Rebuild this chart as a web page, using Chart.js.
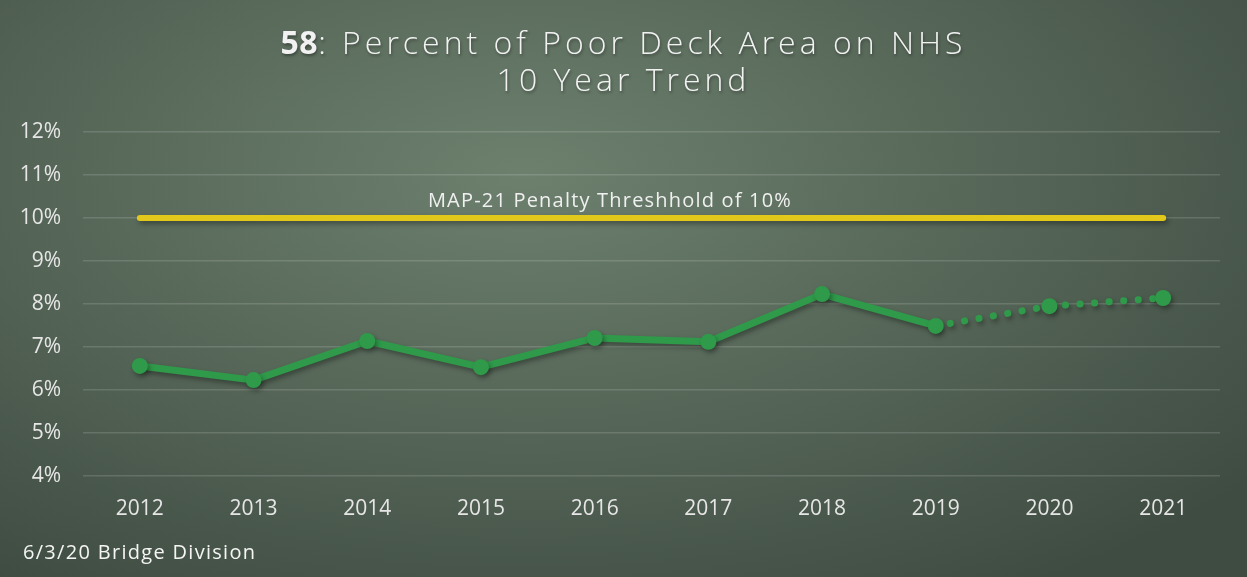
<!DOCTYPE html>
<html>
<head>
<meta charset="utf-8">
<script src="https://cdn.jsdelivr.net/npm/chart.js@4"></script>
<style>
    body { margin: 0; }
    #wrap {
        position: relative;
        width: 1247px;
        height: 577px;
        overflow: hidden;
        background: radial-gradient(ellipse 75% 85% at 42% 30%, #6d806e 0%, #58695a 45%, #3f4c42 100%);
        font-family: 'Open Sans', sans-serif;
        color: #f2f2f2;
    }
    #title {
        position: absolute;
        left: 0; right: 0; top: 23px;
        text-align: center;
        font-size: 32px;
        font-weight: 300;
        letter-spacing: 4px;
        line-height: 37px;
        text-shadow: 1px 2px 3px rgba(0,0,0,0.35);
    }
    #title b { font-weight: 700; letter-spacing: 0.5px; }
    #thresholdLabel {
        position: absolute;
        left: 360px; width: 500px; top: 186px;
        text-align: center;
        font-size: 20px;
        letter-spacing: 1.2px;
        color: #f0f0f0;
    }
    #footnote {
        position: absolute;
        left: 23px; top: 538px;
        font-size: 20px;
        letter-spacing: 1.3px;
        color: #f5f5f5;
    }
    #chartBox { position: absolute; left: 0; top: 0; width: 1247px; height: 577px; }
</style>
</head>
<body>
<div id="wrap">
    <div id="chartBox"><canvas id="trendChart"></canvas></div>
    <div id="title"><b>58</b>: Percent of Poor Deck Area on NHS<br>10 Year Trend</div>
    <div id="thresholdLabel">MAP-21 Penalty Threshhold of 10%</div>
    <div id="footnote">6/3/20 Bridge Division</div>
</div>
<script>
// Chart data
const years = ['2012', '2013', '2014', '2015', '2016', '2017', '2018', '2019', '2020', '2021'];
const poorDeckPct = [6.56, 6.23, 7.14, 6.53, 7.21, 7.12, 8.23, 7.49, 7.95, 8.14];
const penaltyThreshold = [10, 10, 10, 10, 10, 10, 10, 10, 10, 10];
const yTicks = { min: 4, max: 12, step: 1 };

const GREEN = '#2f9a4a';
const YELLOW = '#e2c81b';
const TEXT = '#e6e6e6';

// index after which the line turns dotted (projected values)
const lastActual = 7;

// Soft shadow under the lines
const shadowPlugin = {
    id: 'lineShadow',
    beforeDatasetsDraw(chart) {
        const ctx = chart.ctx;
        ctx.save();
        ctx.shadowColor = 'rgba(0,0,0,0.35)';
        ctx.shadowBlur = 5;
        ctx.shadowOffsetX = 2;
        ctx.shadowOffsetY = 3;
    },
    afterDatasetsDraw(chart) {
        chart.ctx.restore();
    }
};

new Chart(document.getElementById('trendChart'), {
    type: 'line',
    data: {
        labels: years,
        datasets: [
            {
                label: 'Threshold',
                data: penaltyThreshold,
                borderColor: YELLOW,
                borderWidth: 6,
                borderCapStyle: 'round',
                pointRadius: 0,
                tension: 0,
                order: 2
            },
            {
                label: 'Poor Deck Area',
                data: poorDeckPct,
                borderColor: GREEN,
                backgroundColor: GREEN,
                borderWidth: 7,
                borderCapStyle: 'round',
                borderJoinStyle: 'round',
                pointRadius: 8,
                pointBorderWidth: 0,
                pointBackgroundColor: GREEN,
                tension: 0,
                order: 1,
                segment: {
                    borderDash: ctx => ctx.p0DataIndex >= lastActual ? [0.1, 14.5] : undefined
                }
            }
        ]
    },
    options: {
        responsive: true,
        maintainAspectRatio: false,
        animation: false,
        layout: {
            padding: { top: 132, right: 27, bottom: 51, left: 0 }
        },
        plugins: {
            legend: { display: false },
            tooltip: { enabled: false }
        },
        scales: {
            x: {
                offset: true,
                grid: { display: false },
                border: { display: false },
                ticks: {
                    color: TEXT,
                    padding: 12,
                    font: { family: 'Open Sans', size: 21 }
                },
                afterFit: scale => { scale.height = 50; }
            },
            y: {
                min: yTicks.min,
                max: yTicks.max,
                grid: { color: 'rgba(255,255,255,0.14)', lineWidth: 1.5, drawTicks: false },
                border: { display: false },
                ticks: {
                    stepSize: yTicks.step,
                    color: TEXT,
                    padding: 22,
                    font: { family: 'Open Sans', size: 21 },
                    callback: v => v + '%'
                },
                afterFit: scale => { scale.width = 83; }
            }
        }
    },
    plugins: [shadowPlugin]
});
</script>
</body>
</html>
